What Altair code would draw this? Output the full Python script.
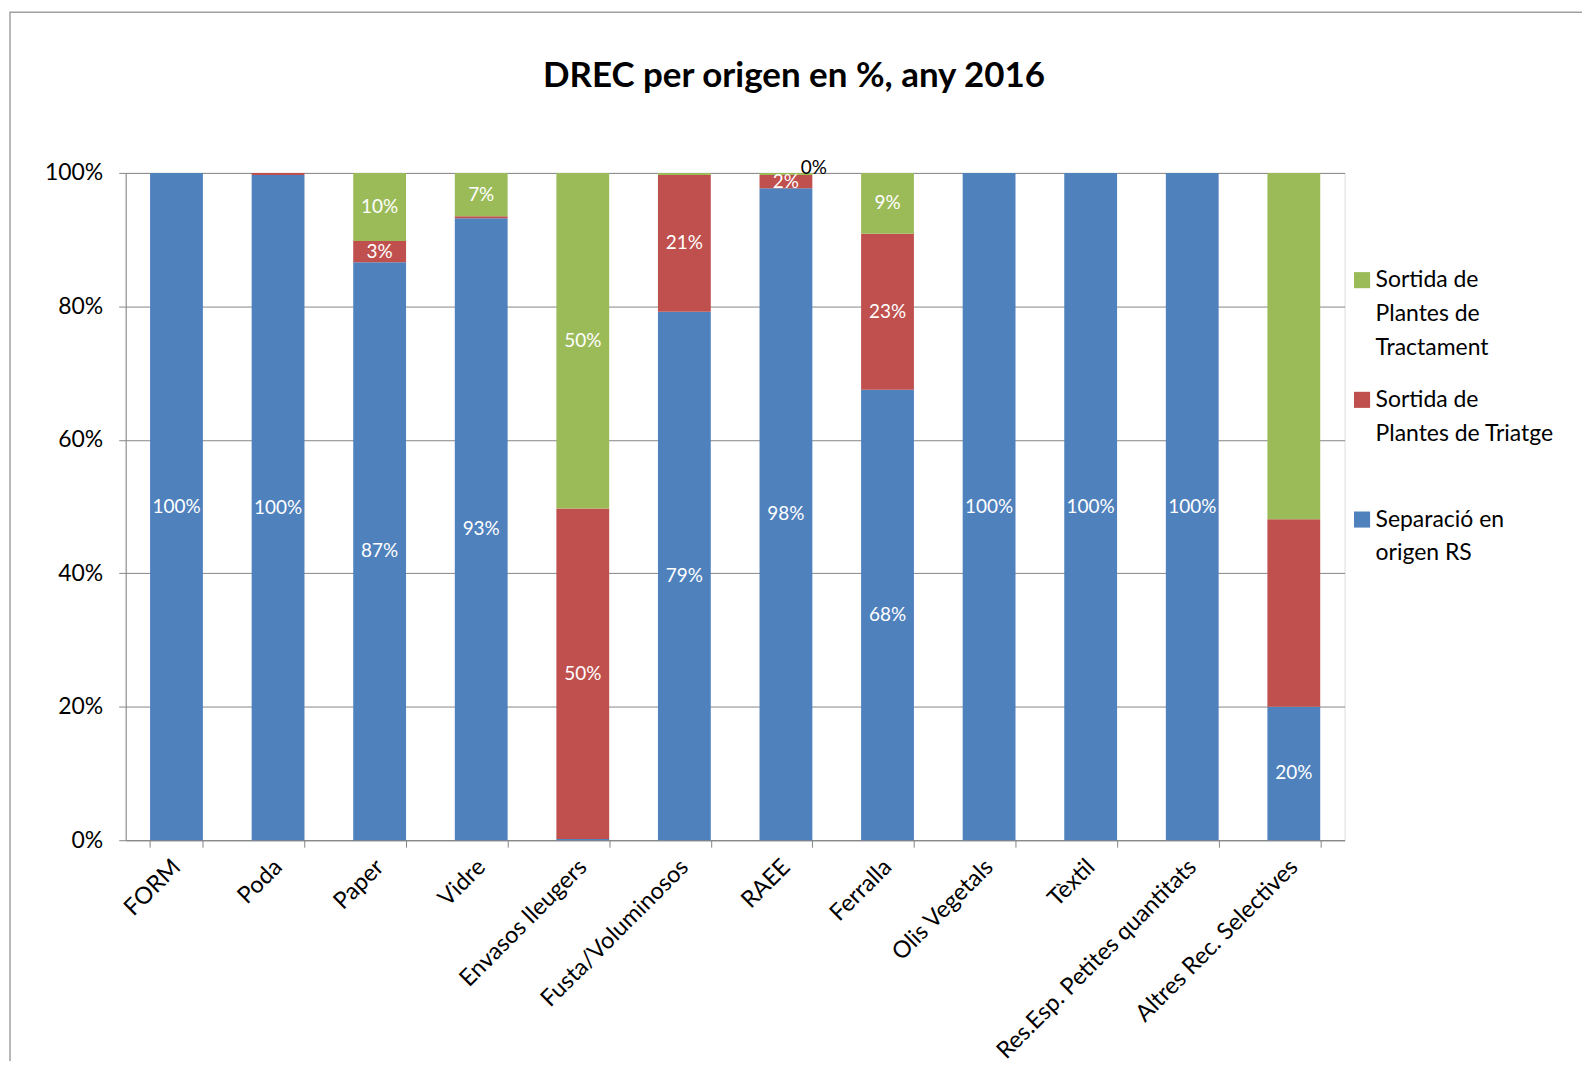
import altair as alt
import pandas as pd

categories = ["FORM", "Poda", "Paper", "Vidre", "Envasos lleugers", "Fusta/Voluminosos",
              "RAEE", "Ferralla", "Olis Vegetals", "Tèxtil", "Res.Esp. Petites quantitats",
              "Altres Rec. Selectives"]
series = ["Sortida de Plantes de Tractament", "Sortida de Plantes de Triatge", "Separació en origen RS"]
colors = ["#9BBB59", "#C0504D", "#4F81BD"]

separacio = [100.0, 99.7, 86.6, 93.2, 0.2, 79.2, 97.7, 67.5, 100.0, 100.0, 100.0, 20.0]
triatge = [0.0, 0.3, 3.2, 0.3, 49.5, 20.5, 2.0, 23.4, 0.0, 0.0, 0.0, 28.1]
tractament = [0.0, 0.0, 10.2, 6.5, 50.3, 0.3, 0.3, 9.1, 0.0, 0.0, 0.0, 51.9]

lab_separacio = ["100%", "100%", "87%", "93%", "", "79%", "98%", "68%", "100%", "100%", "100%", "20%"]
lab_triatge = ["", "", "3%", "", "50%", "21%", "2%", "23%", "", "", "", ""]
lab_tractament = ["", "", "10%", "7%", "50%", "", "0%", "9%", "", "", "", ""]

rows = []
for s, vals, labs, k in [
    ("Separació en origen RS", separacio, lab_separacio, 0),
    ("Sortida de Plantes de Triatge", triatge, lab_triatge, 1),
    ("Sortida de Plantes de Tractament", tractament, lab_tractament, 2),
]:
    for c, v, l in zip(categories, vals, labs):
        rows.append({"cat": c, "serie": s, "value": v, "label": l, "k": k})
df = pd.DataFrame(rows)

FONT = "Lato"

base = alt.Chart(df).transform_stack(
    stack="value", as_=["y0", "y1"], groupby=["cat"],
    sort=[alt.SortField("k", order="ascending")]
).transform_calculate(
    mid="(datum.y0 + datum.y1) / 2"
)

x_enc = alt.X("cat:N", sort=categories, title=None,
              scale=alt.Scale(paddingInner=0.48, paddingOuter=0.24),
              axis=alt.Axis(labelAngle=-45, labelAlign="right", labelBaseline="middle",
                            labelFontSize=23.5, labelColor="#000000", labelFont=FONT,
                            tickBand="extent", tickSize=7, tickColor="#868686",
                            domainColor="#868686", labelPadding=16, grid=False,
                            labelLimit=400))

legend_expr = ("split(datum.label == 'Sortida de Plantes de Tractament' ? "
               "'Sortida de|Plantes de|Tractament' : datum.label == 'Sortida de Plantes de Triatge' ? "
               "'Sortida de|Plantes de Triatge| ' : 'Separació en|origen RS| ', '|')")

bars = base.mark_bar().encode(
    x=x_enc,
    y=alt.Y("y0:Q", title=None,
            scale=alt.Scale(domain=[0, 100], nice=False),
            axis=alt.Axis(values=[0, 20, 40, 60, 80, 100], labelExpr="datum.value + '%'",
                          labelFontSize=23, labelColor="#000000", labelFont=FONT,
                          tickSize=7, tickColor="#868686", domainColor="#868686",
                          gridColor="#868686", gridWidth=1, labelPadding=16)),
    y2="y1:Q",
    color=alt.Color("serie:N", scale=alt.Scale(domain=series, range=colors),
                    legend=alt.Legend(title=None, orient="none", legendX=1228, legendY=96,
                                      symbolType="square", symbolSize=260,
                                      symbolStrokeWidth=0,
                                      labelFontSize=23, labelFont=FONT, labelColor="#000000",
                                      labelExpr=legend_expr,
                                      labelLimit=300, rowPadding=28, labelOffset=2)),
    order=alt.Order("k:Q", sort="ascending"),
)

texts_in = base.transform_filter("datum.value >= 1").mark_text(
    color="white", fontSize=19, font=FONT, baseline="middle"
).encode(
    x=alt.X("cat:N", sort=categories),
    y=alt.Y("mid:Q"),
    text="label:N",
)

texts_out = base.transform_filter("datum.value < 1 && datum.label != ''").mark_text(
    color="black", fontSize=19, font=FONT, baseline="middle", dx=28, dy=-6
).encode(
    x=alt.X("cat:N", sort=categories),
    y=alt.Y("mid:Q"),
    text="label:N",
)

frame = alt.Chart(pd.DataFrame({"f": [0]})).mark_rect(
    fill=None, stroke="#a0a0a0", strokeWidth=1.5
).encode(
    x=alt.value(-116), x2=alt.value(1500), y=alt.value(-161), y2=alt.value(1000)
)

chart = alt.layer(frame, bars, texts_in, texts_out).properties(
    width=1222, height=669,
    title=alt.TitleParams("DREC per origen en %, any 2016", font=FONT, fontSize=35,
                          fontWeight="bold", color="#000000", anchor="middle", offset=-83,
                          dx=59),
    padding={"left": 118, "top": 164, "right": 238, "bottom": 220},
    autosize=alt.AutoSizeParams(type="none"),
).configure_view(stroke=None).configure(
    background="white", style={"guide-label": {"lineHeight": 34}}
)

chart.save("out.html", embed_options={"renderer": "svg", "actions": False})
